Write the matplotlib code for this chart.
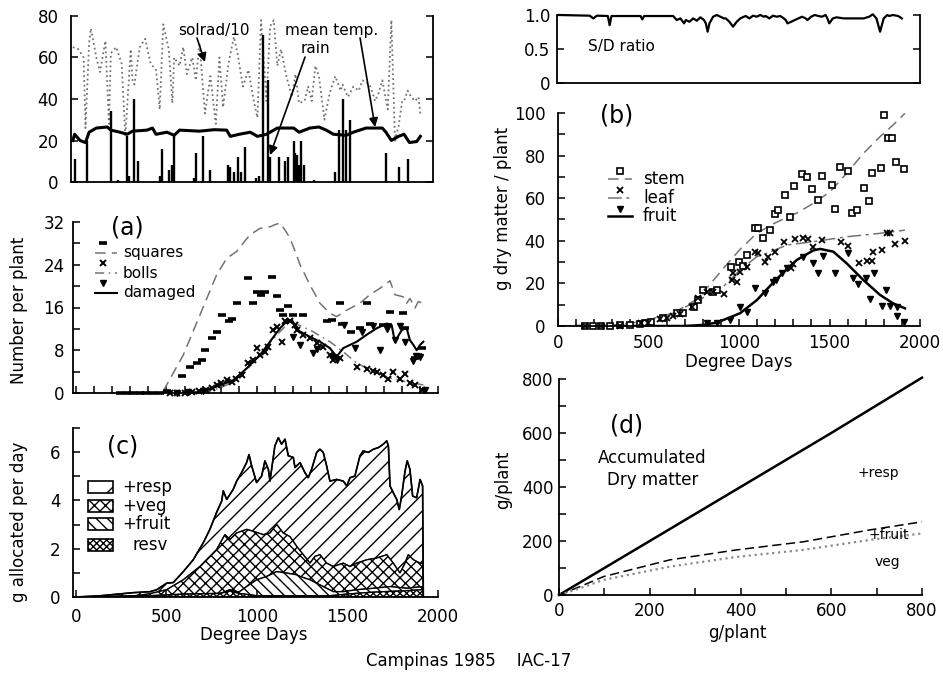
import numpy as np
import matplotlib.pyplot as plt
from matplotlib.patches import Rectangle

W, H = 943, 674

# ---- weather (top left), x = day of season
solrad_day = [1, 4, 7, 8, 10, 11, 14, 16, 19, 21, 22, 25, 28, 30, 33, 34, 35, 38, 41, 44,
              45, 47, 49, 51, 54, 56, 57, 60, 62, 64, 67, 69, 71, 74, 77, 80, 82, 84, 87, 90,
              92, 95, 98, 101, 103, 105, 108, 110, 112, 114, 116, 119, 122, 124, 126, 129, 131,
              133, 135, 137, 140, 143, 146, 149, 150, 153, 156, 159, 161, 165, 168, 170, 172,
              175, 177, 179, 181, 183, 184, 186, 188, 190, 192, 193]
solrad = [65, 64, 60, 26, 67, 74, 60, 53, 68, 28, 62, 65, 57, 22, 64, 49, 47, 65, 69, 57,
          56, 54, 35, 76, 64, 38, 60, 56, 65, 52, 60, 49, 67, 33, 51, 28, 60, 36, 57, 70,
          62, 46, 54, 39, 31, 78, 39, 75, 78, 56, 64, 51, 41, 52, 38, 39, 46, 39, 56, 51,
          30, 43, 51, 44, 47, 41, 46, 44, 49, 47, 39, 43, 49, 35, 78, 20, 27, 39, 39, 44,
          41, 39, 41, 33]
temp_day = [1, 2, 5, 8, 10, 14, 20, 22, 27, 31, 34, 42, 45, 47, 53, 57, 60, 71, 79, 86, 88,
            93, 99, 103, 108, 114, 123, 126, 132, 137, 141, 145, 152, 156, 163, 172, 174, 177,
            181, 184, 187, 191, 193]
temp = [20, 23, 20, 19, 24, 26, 26.5, 25, 24, 23, 24.5, 25, 26, 23, 24, 22.5, 25, 24.5, 25.2,
        25, 22, 23, 24, 22, 23, 26, 26, 24, 26, 26.5, 25, 23, 22.5, 24, 26, 26, 24, 20, 22, 23,
        19, 19.5, 22]
rain_day = [2, 9, 22, 26, 31, 32, 35, 37, 49, 50, 54, 56, 57, 68, 69, 73, 77, 87, 88, 90, 92,
            94, 96, 102, 104, 106, 109, 110, 115, 118, 120, 123, 124, 125, 126, 127, 129, 134,
            146, 148, 150, 152, 154, 174, 181, 186]
rain_mm = [11, 20, 34, 1, 22, 3, 40, 10, 3, 16, 6, 8, 23, 2, 14, 22, 6, 8, 7, 5, 12, 5, 17, 2,
           3, 71, 49, 12, 12, 10, 12, 20, 14, 13, 8, 20, 8, 1, 5, 25, 40, 25, 30, 14, 7, 11]

# ---- supply / demand ratio (top right)
sd_day = [1, 18, 20, 22, 28, 29, 30, 46, 47, 48, 64, 66, 68, 70, 71, 73, 75, 77, 79, 81, 82,
          83, 84, 86, 88, 90, 92, 93, 95, 97, 99, 101, 103, 104, 106, 108, 110, 112, 114, 115,
          117, 119, 121, 123, 125, 126, 127, 129, 131, 133, 135, 137, 138, 140, 142, 144, 146,
          148, 149, 150, 152, 154, 158, 163, 169, 172, 174, 176, 178, 180, 182, 183, 185, 188, 190]
sd_ratio = [1.0, 0.99, 0.95, 0.99, 0.985, 0.85, 0.985, 0.985, 0.936, 0.985, 0.985, 0.926, 0.95,
            0.877, 0.926, 0.90, 0.95, 0.916, 0.966, 0.926, 0.877, 0.754, 0.877, 0.975, 1.0,
            0.975, 0.95, 0.95, 0.90, 0.828, 0.90, 0.95, 0.975, 0.985, 0.95, 0.99, 0.975, 1.0,
            0.975, 0.985, 0.95, 0.99, 0.975, 0.985, 0.95, 0.926, 0.877, 0.90, 0.926, 0.95,
            0.975, 0.95, 0.926, 0.975, 1.0, 0.985, 0.975, 1.0, 0.95, 0.877, 0.95, 0.966, 0.95,
            0.95, 0.95, 0.975, 1.01, 0.95, 0.754, 0.95, 1.0, 0.985, 1.0, 0.985, 0.95]

# ---- (a) numbers per plant
sq_line_dd = [482, 501, 593, 685, 777, 833, 888, 961, 1017, 1072, 1099, 1127, 1155, 1182, 1219,
              1238, 1293, 1348, 1403, 1440, 1496, 1569, 1624, 1680, 1735, 1762, 1808, 1827, 1845,
              1873, 1891, 1919]
sq_line = [0.3, 1.5, 7.1, 14.6, 22.1, 25.2, 26.5, 29.6, 30.8, 31.1, 31.5, 31.8, 30.5, 29.0,
           25.8, 24.0, 20.2, 16.8, 14.9, 14.3, 15.5, 16.8, 18.4, 19.6, 21.0, 18.4, 18.0, 16.8,
           17.7, 15.9, 17.1, 16.8]
boll_line_dd = [700, 800, 900, 1000, 1100, 1182, 1293, 1403, 1477, 1551, 1643, 1735, 1827, 1919]
boll_line = [0, 1.0, 2.6, 6.5, 10.5, 13.4, 11.8, 9.6, 7.7, 5.6, 4.0, 2.8, 2.1, 1.5]
dam_line_dd = [600, 685, 777, 869, 943, 1017, 1072, 1127, 1164, 1192, 1219, 1238, 1293, 1348,
               1403, 1440, 1477, 1551, 1606, 1661, 1717, 1744, 1762, 1800, 1827, 1845, 1864,
               1882, 1901, 1919]
dam_line = [0, 0.2, 1.2, 2.4, 4.6, 7.1, 9.6, 12.1, 13.4, 13.7, 12.1, 11.5, 10.5, 9.6, 8.4, 6.8,
            8.4, 9.6, 10.9, 12.1, 13.0, 12.7, 9.6, 11.8, 12.1, 9.9, 9.0, 8.0, 9.0, 9.6]
sq_pts_dd = [243, 280, 316, 352, 389, 425, 462, 503, 584, 630, 667, 694, 713, 750, 777, 805, 845,
             860, 888, 952, 980, 998, 1022, 1044, 1081, 1109, 1127, 1145, 1173, 1200, 1256, 1385,
             1413, 1459, 1468, 1519, 1569, 1606, 1624, 1698, 1726, 1735, 1808, 1818, 1873, 1888,
             1910]
sq_pts = [0, 0, 0, 0, 0, 0, 0, 0.4, 3.1, 4.9, 5.6, 6.2, 8.1, 10.2, 11.5, 14.6, 13.5, 13.9, 16.8,
          21.5, 16.8, 18.9, 18.4, 18.9, 21.8, 18.2, 15.5, 14.6, 16.2, 14.6, 14.6, 13.4, 13.7,
          16.8, 13.0, 11.5, 12.1, 16.8, 13.0, 12.7, 12.7, 15.2, 15.0, 12.1, 6.5, 7.1, 8.4]
boll_pts_dd = [520, 560, 600, 640, 680, 720, 750, 777, 804, 832, 860, 887, 915, 952, 979, 998,
               1017, 1044, 1063, 1090, 1109, 1136, 1155, 1182, 1210, 1219, 1256, 1293, 1330, 1366,
               1403, 1422, 1459, 1551, 1606, 1643, 1661, 1698, 1726, 1753, 1790, 1818, 1845, 1873,
               1910]
boll_pts = [0, 0, 0, 0.2, 0.3, 0.6, 1.0, 1.5, 1.8, 2.4, 2.1, 2.7, 3.4, 5.6, 6.2, 8.4, 7.1, 7.7,
            8.7, 11.8, 12.4, 9.6, 13.4, 13.4, 12.7, 11.8, 10.9, 10.2, 9.3, 8.7, 7.1, 6.2, 6.5,
            4.9, 4.5, 4.2, 3.9, 3.4, 2.7, 3.9, 2.7, 3.5, 1.8, 1.5, 0.6]
dam_pts_dd = [560, 620, 700, 1200, 1237, 1310, 1330, 1420, 1440, 1480, 1540, 1580, 1640, 1680,
              1720, 1760, 1790, 1820, 1860, 1880, 1900, 1930]
dam_pts = [0, 0.2, 0.3, 10.5, 9.0, 7.5, 8.2, 6.8, 6.2, 12.8, 8.5, 11.5, 12.6, 8.0, 12.0, 10.0,
           12.5, 9.5, 6.0, 7.0, 6.8, 0.5]

# ---- (c) daily allocation, cumulative layers
tot_dd = [0, 133, 317, 409, 446, 501, 538, 593, 648, 703, 740, 777, 805, 814, 833, 851, 869, 888,
          915, 943, 956, 971, 998, 1026, 1044, 1063, 1072, 1099, 1118, 1136, 1155, 1173, 1201,
          1210, 1238, 1265, 1283, 1302, 1330, 1348, 1366, 1385, 1403, 1440, 1477, 1496, 1514,
          1541, 1569, 1587, 1615, 1643, 1671, 1698, 1717, 1726, 1735, 1753, 1772, 1786, 1799,
          1818, 1830, 1845, 1860, 1882, 1901, 1915, 1919]
tot_g = [0, 0.05, 0.18, 0.22, 0.3, 0.57, 0.6, 1.05, 1.54, 2.24, 2.8, 3.5, 3.97, 4.4, 4.04, 4.25,
         4.46, 4.8, 5.15, 5.57, 5.9, 5.43, 4.74, 5.01, 5.64, 5.29, 4.8, 6.26, 6.6, 6.33, 6.54,
         5.85, 5.78, 5.36, 5.57, 5.15, 4.94, 5.29, 5.99, 6.12, 5.99, 5.43, 4.8, 4.87, 4.8, 4.6,
         4.94, 5.01, 5.85, 6.05, 5.99, 6.12, 6.19, 6.33, 6.47, 6.26, 4.6, 4.32, 4.04, 3.62, 4.18,
         5.22, 5.64, 5.29, 4.18, 4.11, 4.87, 4.6, 0]
veg_dd = [0, 300, 400, 501, 593, 685, 777, 823, 851, 888, 943, 980, 1035, 1072, 1109, 1145, 1182,
          1219, 1256, 1293, 1320, 1348, 1385, 1422, 1477, 1514, 1551, 1606, 1661, 1717, 1753,
          1790, 1818, 1836, 1864, 1901, 1915, 1919]
veg_g = [0, 0.03, 0.12, 0.3, 0.71, 1.26, 1.96, 2.58, 2.38, 2.65, 2.8, 2.72, 2.58, 2.65, 3.0,
         2.65, 2.5, 2.1, 1.75, 1.4, 1.68, 1.75, 1.4, 1.26, 1.4, 1.26, 1.4, 1.54, 1.61, 1.75, 1.4,
         0.99, 1.4, 1.75, 1.54, 1.4, 1.4, 0]
fruit_dd = [0, 700, 800, 850, 900, 943, 998, 1054, 1109, 1164, 1219, 1238, 1293, 1366, 1422,
            1477, 1551, 1643, 1735, 1827, 1915, 1919]
fruit_g = [0, 0, 0.15, 0.3, 0.2, 0.43, 0.71, 0.85, 1.05, 0.99, 0.92, 0.85, 0.71, 0.43, 0.22,
           0.22, 0.3, 0.36, 0.43, 0.36, 0.43, 0]
resv_dd = [0, 400, 600, 800, 850, 900, 1000, 1400, 1500, 1600, 1700, 1800, 1915, 1919]
resv_g = [0, 0.05, 0.12, 0.15, 0.25, 0.15, 0.05, 0.05, 0.12, 0.18, 0.22, 0.25, 0.3, 0]

# ---- (b) dry matter per plant
stem_c_dd = [0, 300, 453, 637, 775, 913, 1006, 1098, 1190, 1264, 1319, 1411, 1503, 1595, 1687,
             1779, 1852, 1917]
stem_c = [0, 0.2, 2, 6, 13, 27, 36, 43.5, 48, 51, 53, 57.6, 63, 71.7, 81, 88.9, 94.4, 99.9]
leaf_c_dd = [0, 300, 453, 637, 775, 913, 1006, 1098, 1180, 1264, 1411, 1595, 1779, 1917]
leaf_c = [0, 0.2, 2, 6, 12, 18.5, 26.3, 32.5, 35, 38, 39.6, 41.9, 43.5, 45]
fruit_c_dd = [100, 700, 800, 878, 1006, 1099, 1190, 1250, 1319, 1411, 1448, 1521, 1595, 1687,
              1779, 1852, 1917]
fruit_c = [0, 0, 0.5, 1.6, 6, 12.2, 20.5, 25.5, 31, 35.5, 36.2, 34.9, 29.4, 21.6, 14.6, 10.6, 8.3]
stem_dd = [147, 194, 240, 286, 341, 396, 452, 479, 516, 580, 656, 692, 751, 775, 803, 858, 880,
           956, 1000, 1024, 1046, 1088, 1107, 1134, 1171, 1199, 1217, 1254, 1282, 1306, 1346,
           1374, 1402, 1435, 1457, 1512, 1530, 1558, 1600, 1623, 1650, 1693, 1720, 1737, 1783,
           1801, 1825, 1845, 1867, 1911]
stem_w = [0, 0, 0, 0.1, 0.3, 0.5, 1.0, 1.6, 2.0, 3.6, 6.0, 6.0, 9.1, 12.2, 16.9, 16.1, 16.9,
          27.8, 29.9, 28.3, 33.3, 46.2, 46.2, 41.5, 45.0, 52.4, 54.5, 61.5, 51.0, 65.7, 71.4,
          70.1, 64.3, 59.2, 70.4, 66.2, 55.0, 74.5, 72.9, 52.9, 54.5, 64.6, 58.8, 72.0, 74.0,
          99.0, 88.4, 88.4, 77.1, 73.7]
leaf_dd = [147, 240, 341, 460, 497, 563, 600, 637, 674, 740, 775, 821, 858, 917, 959, 969, 987,
           1006, 1042, 1088, 1107, 1144, 1162, 1199, 1250, 1290, 1300, 1309, 1351, 1383, 1411,
           1457, 1563, 1604, 1664, 1705, 1733, 1742, 1788, 1816, 1834, 1862, 1917]
leaf_w = [0, 0, 0.2, 1.6, 1.2, 3.1, 3.6, 4.8, 5.6, 9.0, 13.0, 16.0, 16.0, 15.0, 21.6, 24.7,
          20.8, 25.5, 27.8, 34.9, 34.1, 30.2, 32.5, 34.9, 39.6, 27.0, 29.0, 40.7, 41.5, 40.7,
          37.2, 40.2, 39.6, 37.7, 29.7, 30.7, 30.7, 34.9, 35.7, 43.5, 43.5, 38.5, 39.9]
fruitp_dd = [825, 880, 950, 1006, 1042, 1088, 1144, 1190, 1207, 1236, 1263, 1355, 1411, 1439,
             1462, 1530, 1604, 1631, 1659, 1702, 1724, 1748, 1788, 1812, 1834, 1871, 1875, 1911]
fruitp_w = [1.5, 1.5, 3.0, 9.1, 6.5, 17.7, 15.4, 20.8, 21.6, 24.7, 27.1, 32.5, 29.4, 24.7, 33.0,
            24.7, 34.4, 22.4, 19.7, 22.4, 12.7, 24.7, 9.4, 16.9, 9.4, 9.1, 4.7, 2.0]

# ---- (d) accumulated dry matter
acc_x = [0, 200, 400, 600, 800]
acc_resp = [0, 200, 400, 600, 805]
accf_x = [0, 46, 98, 244, 391, 538, 685, 800]
acc_fruit = [0, 31, 68, 130, 167, 197, 241, 271]
accv_x = [0, 46, 98, 244, 391, 538, 685, 800]
acc_veg = [0, 25, 56, 105, 141, 167, 204, 228]

plt.rcParams['font.family'] = ['DejaVu Sans']
plt.rcParams['hatch.linewidth'] = 1.0
fig = plt.figure(figsize=(W / 100, H / 100), dpi=100)


def px_axes(l, t, r, b):
    ax = fig.add_axes([l / W, 1 - b / H, (r - l) / W, (b - t) / H])
    for s in ax.spines.values():
        s.set_linewidth(1.3)
    ax.tick_params(which='both', direction='in', length=5, width=1.1, labelsize=12)
    return ax


def px_text(x, y, s, **kw):
    fig.text(x / W, 1 - y / H, s, ha='center', va='center', **kw)


def hide(ax, *names):
    for n in names:
        ax.spines[n].set_visible(False)


# weather
axw = px_axes(71, 16, 433, 182)
axw.plot(solrad_day, solrad, ls=':', color='0.45', lw=1.3)
axw.vlines(rain_day, 0, rain_mm, color='black', lw=1.7)
axw.plot(temp_day, temp, color='black', lw=2.2)
axw.set_xlim(0, 200)
axw.set_ylim(0, 80)
axw.set_xticks([])
axw.set_yticks([0, 20, 40, 60, 80])
axw.tick_params(right=True, pad=9)
hide(axw, 'top')
axw.text(79, 73, 'solrad/10', ha='center', va='center', fontsize=11)
axw.text(144, 73, 'mean temp.', ha='center', va='center', fontsize=11)
axw.text(135, 64.5, 'rain', ha='center', va='center', fontsize=11)
arr = dict(arrowstyle='-|>', color='black', lw=1.2, mutation_scale=13, shrinkA=0, shrinkB=0)
axw.annotate('', xy=(74, 57.8), xytext=(69.6, 69.4), arrowprops=arr)
axw.annotate('', xy=(168, 26.5), xytext=(159.7, 69.4), arrowprops=arr)
axw.annotate('', xy=(110, 13), xytext=(129.3, 60.2), arrowprops=arr)

# S/D ratio
axs = px_axes(557, 15, 920, 83)
axs.plot(sd_day, sd_ratio, color='black', lw=1.6, clip_on=False)
axs.set_xlim(0, 200)
axs.set_ylim(0, 1.0)
axs.set_xticks([])
axs.set_yticks([0, 0.5, 1.0])
axs.set_yticklabels(['0', '0.5', '1.0'])
axs.tick_params(right=True, pad=5)
hide(axs, 'top')
axs.text(17, 0.53, 'S/D ratio', ha='left', va='center', fontsize=11)

# (a)
axa = px_axes(73, 222, 438, 393)
axa.plot(sq_line_dd, sq_line, ls=(0, (7, 4)), color='0.45', lw=1.1)
axa.plot(boll_line_dd, boll_line, ls=(0, (6, 3, 1, 3)), color='0.45', lw=1.1)
axa.plot(dam_line_dd, dam_line, color='black', lw=1.5)
axa.plot(sq_pts_dd, sq_pts, ls='none', marker='_', ms=6, mew=2.6, color='black', clip_on=False)
axa.plot(boll_pts_dd, boll_pts, ls='none', marker='x', ms=4, mew=1.4, color='black', clip_on=False)
axa.plot(dam_pts_dd, dam_pts, ls='none', marker='v', ms=4.5, color='black', clip_on=False)
axa.set_xlim(-16, 2000)
axa.set_ylim(0, 32)
axa.set_xticks(range(0, 2001, 100))
axa.set_xticklabels([])
axa.set_yticks([0, 8, 16, 24, 32])
axa.set_yticks([4, 12, 20, 28], minor=True)
axa.tick_params(axis='y', pad=6)
hide(axa, 'top', 'right')
axa.text(0.148, 0.965, '(a)', transform=axa.transAxes, ha='center', va='center', fontsize=17)
tr = axa.transAxes
axa.plot([0.082], [0.877], marker='_', ms=6, mew=2.6, color='black', transform=tr)
axa.plot([0.06, 0.12], [0.819, 0.819], ls=(0, (7, 4)), color='0.45', lw=1.1, transform=tr)
axa.text(0.137, 0.819, 'squares', transform=tr, va='center', fontsize=11)
axa.plot([0.082], [0.76], marker='x', ms=4, mew=1.4, color='black', transform=tr)
axa.plot([0.06, 0.12], [0.70, 0.70], ls=(0, (6, 3, 1, 3)), color='0.45', lw=1.1, transform=tr)
axa.text(0.137, 0.70, 'bolls', transform=tr, va='center', fontsize=11)
axa.plot([0.082], [0.643], marker='v', ms=4.5, color='black', transform=tr)
axa.plot([0.06, 0.12], [0.585, 0.585], color='black', lw=1.5, transform=tr)
axa.text(0.137, 0.585, 'damaged', transform=tr, va='center', fontsize=11)

# (c)
axc = px_axes(73, 428, 438, 597)


def layer(xu, yu, xl, yl, hatch):
    xs = np.r_[np.asarray(xu, float), np.asarray(xl, float)[::-1]]
    ys = np.r_[np.asarray(yu, float), np.asarray(yl, float)[::-1]]
    axc.fill(xs, ys, facecolor='white', edgecolor='black', hatch=hatch, lw=1.0)


layer(tot_dd, tot_g, veg_dd, veg_g, '//')
layer(veg_dd, veg_g, fruit_dd, fruit_g, 'xxx')
layer(fruit_dd, fruit_g, resv_dd, resv_g, '\\\\\\')
layer(resv_dd, resv_g, [0, 1919], [0, 0], 'xxxxx')
axc.plot(tot_dd, tot_g, color='black', lw=1.2)
axc.set_xlim(-16, 2000)
axc.set_ylim(0, 7)
axc.set_xticks([0, 500, 1000, 1500, 2000])
axc.set_yticks([0, 2, 4, 6])
axc.set_yticks([1, 3, 5, 7], minor=True)
axc.tick_params(axis='y', pad=9)
axc.tick_params(axis='x', pad=8)
hide(axc, 'top', 'right')
axc.text(0.137, 0.888, '(c)', transform=axc.transAxes, ha='center', va='center', fontsize=17)
for yb, ht, lab, xt in [(0.615, '/', '+resp', 0.134), (0.503, 'xxx', '+veg', 0.134),
                         (0.396, '\\\\\\', '+fruit', 0.134), (0.272, 'xxxxx', 'resv', 0.164)]:
    axc.add_patch(Rectangle((0.041, yb), 0.068, 0.071, transform=axc.transAxes,
                            facecolor='white', edgecolor='black', hatch=ht, lw=1.2))
    axc.text(xt, yb + 0.035, lab, transform=axc.transAxes, va='center', fontsize=12)

# (b)
axb = px_axes(558, 113, 920, 326)
axb.plot(stem_c_dd, stem_c, ls=(0, (7, 4)), color='0.45', lw=1.1)
axb.plot(leaf_c_dd, leaf_c, ls=(0, (9, 3, 2, 3)), color='0.45', lw=1.1)
axb.plot(fruit_c_dd, fruit_c, color='black', lw=1.8)
axb.plot(stem_dd, stem_w, ls='none', marker='s', ms=4, mfc='white', mec='black', mew=1.2,
         clip_on=False)
axb.plot(leaf_dd, leaf_w, ls='none', marker='x', ms=4, mew=1.3, color='black', clip_on=False)
axb.plot(fruitp_dd, fruitp_w, ls='none', marker='v', ms=4.5, color='black', clip_on=False)
axb.set_xlim(0, 2000)
axb.set_ylim(0, 100)
axb.set_xticks([0, 500, 1000, 1500, 2000])
axb.set_xticks(range(100, 2000, 100), minor=True)
axb.set_yticks([0, 20, 40, 60, 80, 100])
axb.set_yticks(range(10, 100, 20), minor=True)
axb.tick_params(axis='y', pad=9)
axb.tick_params(axis='x', pad=6)
hide(axb, 'top', 'right')
tb = axb.transAxes
axb.text(0.163, 0.99, '(b)', transform=tb, ha='center', va='center', fontsize=17)
axb.plot([0.171], [0.728], marker='s', ms=4, mfc='white', mec='black', mew=1.2, transform=tb)
axb.plot([0.138, 0.204], [0.69, 0.69], ls=(0, (7, 4)), color='0.45', lw=1.1, transform=tb)
axb.text(0.235, 0.69, 'stem', transform=tb, va='center', fontsize=12)
axb.plot([0.171], [0.638], marker='x', ms=4, mew=1.3, color='black', transform=tb)
axb.plot([0.138, 0.204], [0.601, 0.601], ls=(0, (9, 3, 2, 3)), color='0.45', lw=1.1, transform=tb)
axb.text(0.235, 0.601, 'leaf', transform=tb, va='center', fontsize=12)
axb.plot([0.171], [0.55], marker='v', ms=4.5, color='black', transform=tb)
axb.plot([0.138, 0.204], [0.515, 0.515], color='black', lw=1.8, transform=tb)
axb.text(0.235, 0.515, 'fruit', transform=tb, va='center', fontsize=12)

# (d)
axd = px_axes(559, 379, 922, 595)
axd.plot(acc_x, acc_resp, color='black', lw=1.8, clip_on=False)
axd.plot(accf_x, acc_fruit, ls=(0, (6, 3)), color='black', lw=1.1)
axd.plot(accv_x, acc_veg, ls=':', color='0.55', lw=1.6)
axd.set_xlim(0, 800)
axd.set_ylim(0, 800)
axd.set_xticks([0, 200, 400, 600, 800])
axd.set_xticks([100, 300, 500, 700], minor=True)
axd.set_yticks([0, 200, 400, 600, 800])
axd.set_yticks([100, 300, 500, 700], minor=True)
axd.tick_params(axis='y', pad=4)
axd.tick_params(axis='x', pad=5)
hide(axd, 'top', 'right')
td = axd.transAxes
axd.text(0.187, 0.787, '(d)', transform=td, ha='center', va='center', fontsize=17)
axd.text(0.256, 0.634, 'Accumulated', transform=td, ha='center', va='center', fontsize=12)
axd.text(0.259, 0.532, 'Dry matter', transform=td, ha='center', va='center', fontsize=12)
axd.text(0.879, 0.565, '+resp', transform=td, ha='center', va='center', fontsize=10)
axd.text(0.909, 0.278, '+fruit', transform=td, ha='center', va='center', fontsize=10)
axd.text(0.906, 0.153, 'veg', transform=td, ha='center', va='center', fontsize=10)

# axis labels and caption
px_text(19, 310, 'Number per plant', rotation=90, fontsize=12)
px_text(19, 522, 'g allocated per day', rotation=90, fontsize=12)
px_text(503, 208, 'g dry matter / plant', rotation=90, fontsize=12)
px_text(503, 480, 'g/plant', rotation=90, fontsize=12)
px_text(254, 635, 'Degree Days', fontsize=12)
px_text(739, 362, 'Degree Days', fontsize=12)
px_text(737, 633, 'g/plant', fontsize=12)
px_text(469, 661, 'Campinas 1985    IAC-17', fontsize=12)

fig.savefig('out.png', dpi=100)
